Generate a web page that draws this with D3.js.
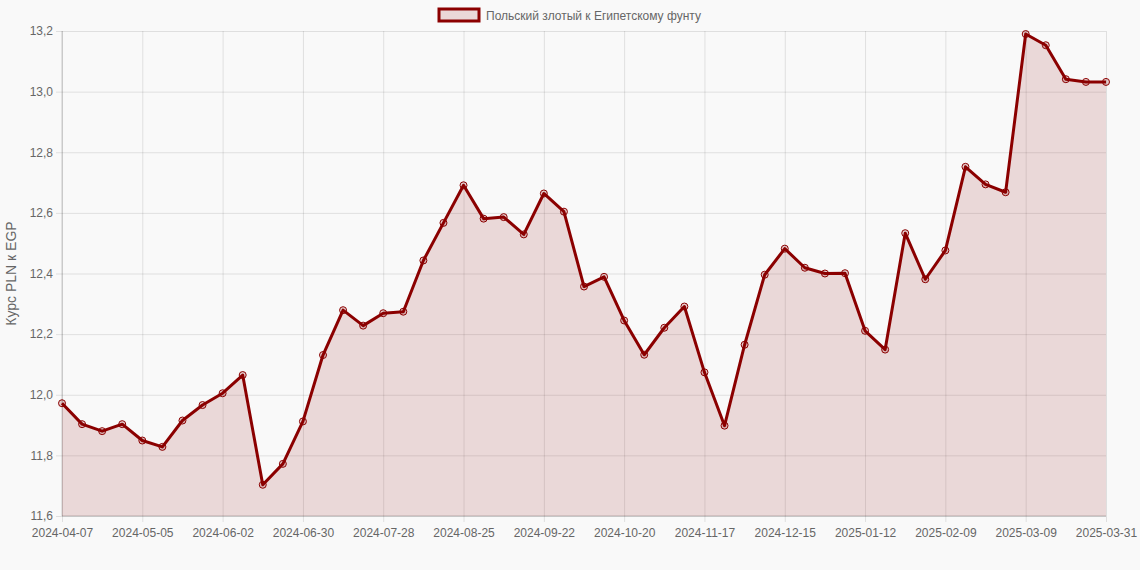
<!DOCTYPE html>
<html>
<head>
<meta charset="utf-8">
<script src="https://cdn.jsdelivr.net/npm/d3@7"></script>
<style>
  html, body { margin: 0; padding: 0; background: #f9f9f9; }
  svg { display: block; font-family: "Liberation Sans", Arial, Helvetica, sans-serif; }
</style>
</head>
<body>
<svg id="chart" width="1140" height="570"></svg>
<script>
// даты (по оси X)
const dates = [
  "2024-04-07", "2024-04-14", "2024-04-21", "2024-04-28", "2024-05-05", "2024-05-12",
  "2024-05-19", "2024-05-26", "2024-06-02", "2024-06-09", "2024-06-16", "2024-06-23",
  "2024-06-30", "2024-07-07", "2024-07-14", "2024-07-21", "2024-07-28", "2024-08-04",
  "2024-08-11", "2024-08-18", "2024-08-25", "2024-09-01", "2024-09-08", "2024-09-15",
  "2024-09-22", "2024-09-29", "2024-10-06", "2024-10-13", "2024-10-20", "2024-10-27",
  "2024-11-03", "2024-11-10", "2024-11-17", "2024-11-24", "2024-12-01", "2024-12-08",
  "2024-12-15", "2024-12-22", "2024-12-29", "2025-01-05", "2025-01-12", "2025-01-19",
  "2025-01-26", "2025-02-02", "2025-02-09", "2025-02-16", "2025-02-23", "2025-03-02",
  "2025-03-09", "2025-03-16", "2025-03-23", "2025-03-30", "2025-03-31"
];

// курс PLN к EGP
const rates = [
  11.972, 11.903, 11.880, 11.903, 11.849, 11.828,
  11.915, 11.966, 12.005, 12.065, 11.703, 11.772,
  11.912, 12.131, 12.279, 12.228, 12.269, 12.274,
  12.443, 12.567, 12.691, 12.581, 12.586, 12.529,
  12.664, 12.604, 12.357, 12.389, 12.245, 12.132,
  12.221, 12.291, 12.074, 11.898, 12.165, 12.396,
  12.482, 12.419, 12.400, 12.401, 12.211, 12.149,
  12.533, 12.381, 12.476, 12.752, 12.694, 12.668,
  13.190, 13.153, 13.041, 13.032, 13.032
];

const yTicks = [11.6, 11.8, 12.0, 12.2, 12.4, 12.6, 12.8, 13.0, 13.2];
const seriesName = "Польский злотый к Египетскому фунту";
const yTitle = "Курс PLN к EGP";

const svg = d3.select("#chart");
const plotLeft = 62, plotRight = 1106, plotTop = 31, plotBottom = 516;
const lineColor = "#8b0000";
const fillColor = "rgba(139,0,0,0.13)";
const textColor = "#666";

const x = d3.scalePoint().domain(dates).range([plotLeft, plotRight]);
const y = d3.scaleLinear().domain([11.6, 13.2]).range([plotBottom, plotTop]);

const xTickValues = dates.filter((d, i) => i % 4 === 0);
const fmt = (v) => d3.format(".1f")(v).replace(".", ",");

// сетка по Y
svg.append("g")
  .attr("transform", `translate(${plotLeft},0)`)
  .call(d3.axisLeft(y).tickValues(yTicks).tickSize(-(plotRight - plotLeft)).tickSizeOuter(0).tickFormat(fmt))
  .call((g) => g.select(".domain").remove())
  .call((g) => g.selectAll(".tick line")
    .attr("x1", -6)
    .attr("stroke", "rgba(0,0,0,0.1)"))
  .call((g) => g.selectAll(".tick text")
    .attr("fill", textColor)
    .attr("font-size", 12)
    .attr("x", -9)
    .style("font-family", "inherit"));

// сетка по X
svg.append("g")
  .attr("transform", `translate(0,${plotBottom})`)
  .call(d3.axisBottom(x).tickValues(xTickValues).tickSize(-(plotBottom - plotTop)).tickSizeOuter(0))
  .call((g) => g.select(".domain").remove())
  .call((g) => g.selectAll(".tick line")
    .attr("y1", 6)
    .attr("stroke", "rgba(0,0,0,0.1)"))
  .call((g) => g.selectAll(".tick text")
    .attr("fill", textColor)
    .attr("font-size", 12)
    .attr("y", 12)
    .style("font-family", "inherit"));

// оси
svg.append("line")
  .attr("x1", plotLeft).attr("x2", plotRight).attr("y1", plotBottom).attr("y2", plotBottom)
  .attr("stroke", "rgba(0,0,0,0.22)");
svg.append("line")
  .attr("x1", plotLeft).attr("x2", plotLeft).attr("y1", plotTop).attr("y2", plotBottom)
  .attr("stroke", "rgba(0,0,0,0.18)");

const data = dates.map((d, i) => ({ date: d, value: rates[i] }));

// заливка
const area = d3.area()
  .x((d) => x(d.date))
  .y0(plotBottom)
  .y1((d) => y(d.value));

svg.append("path")
  .datum(data)
  .attr("d", area)
  .attr("fill", fillColor);

// линия
const line = d3.line()
  .x((d) => x(d.date))
  .y((d) => y(d.value));

svg.append("path")
  .datum(data)
  .attr("d", line)
  .attr("fill", "none")
  .attr("stroke", lineColor)
  .attr("stroke-width", 3)
  .attr("stroke-linejoin", "round");

// точки
svg.append("g")
  .selectAll("circle")
  .data(data)
  .join("circle")
  .attr("cx", (d) => x(d.date))
  .attr("cy", (d) => y(d.value))
  .attr("r", 3.5)
  .attr("fill", "rgba(139,0,0,0.18)")
  .attr("stroke", lineColor)
  .attr("stroke-width", 1);

// легенда
const legend = svg.append("g");
legend.append("rect")
  .attr("x", 439).attr("y", 9)
  .attr("width", 40).attr("height", 12)
  .attr("fill", fillColor)
  .attr("stroke", lineColor)
  .attr("stroke-width", 3);
legend.append("text")
  .attr("x", 486).attr("y", 19.5)
  .attr("fill", textColor)
  .attr("font-size", 12)
  .text(seriesName);

// подпись оси Y
svg.append("text")
  .attr("transform", `translate(16,${(plotTop + plotBottom) / 2}) rotate(-90)`)
  .attr("text-anchor", "middle")
  .attr("fill", textColor)
  .attr("font-size", 14)
  .text(yTitle);
</script>
</body>
</html>
